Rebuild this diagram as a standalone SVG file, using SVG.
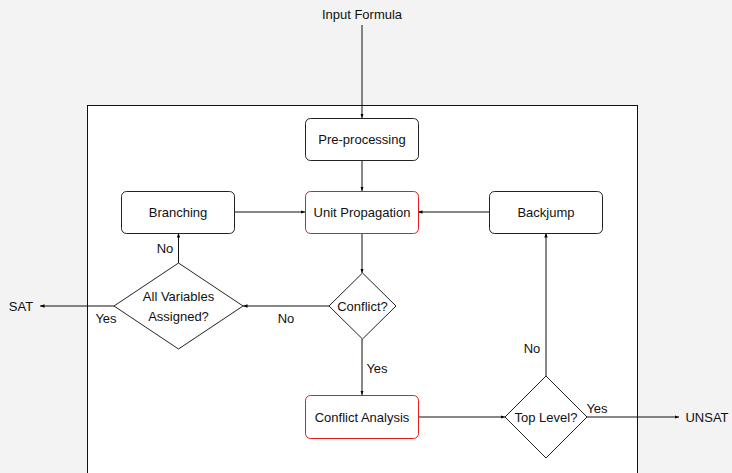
<svg xmlns="http://www.w3.org/2000/svg" width="732" height="473" viewBox="0 0 732 473">
<defs>
<marker id="ah" viewBox="0 0 6 6" refX="6" refY="3" markerWidth="4.5" markerHeight="4.5" markerUnits="userSpaceOnUse" orient="auto">
<path d="M0,0.8 L6,3 L0,5.2 z" fill="#000"/>
</marker>
</defs>
<style>
text{font-family:"Liberation Sans",Arial,sans-serif;font-size:13px;fill:#111;text-anchor:middle;dominant-baseline:central}
.box{fill:#fff;stroke:#222;stroke-width:1}
.red{fill:#fff;stroke:#e31d1d;stroke-width:1}
.edge{fill:none;stroke:#111;stroke-width:1;marker-end:url(#ah)}
</style>
<rect x="0" y="0" width="732" height="473" fill="#f3f3f3"/>
<rect id="frame" x="87.5" y="105.5" width="550" height="380" fill="#fff" stroke="#111" stroke-width="1"/>
<g id="connectors">
<path class="edge" d="M362,25 V118"/>
<path class="edge" d="M362,160 V191"/>
<path class="edge" d="M234,212 H305"/>
<path class="edge" d="M489,212 H418"/>
<path class="edge" d="M362,233 V273"/>
<path class="edge" d="M329,306 H243"/>
<path class="edge" d="M178.5,263 V233"/>
<path class="edge" d="M114,306 H40"/>
<path class="edge" d="M362,339 V395"/>
<path class="edge" d="M418,417 H505"/>
<path class="edge" d="M546,376 V233"/>
<path class="edge" d="M587,417 H679"/>
<text x="286" y="318">No</text>
<text x="165" y="248">No</text>
<text x="106" y="318">Yes</text>
<text x="377" y="368">Yes</text>
<text x="532" y="348">No</text>
<text x="597" y="408">Yes</text>
</g>
<g id="input"><text x="362" y="14">Input Formula</text></g>
<g id="preprocessing"><rect class="box" x="305.5" y="118.5" width="113" height="42" rx="5"/><text x="362" y="139.5">Pre-processing</text></g>
<g id="unitprop"><rect class="red" x="305.5" y="191.5" width="113" height="42" rx="5"/><text x="362" y="212.5">Unit Propagation</text></g>
<g id="branching"><rect class="box" x="121.5" y="191.5" width="113" height="42" rx="5"/><text x="178" y="212.5">Branching</text></g>
<g id="backjump"><rect class="box" x="489.5" y="191.5" width="113" height="42" rx="5"/><text x="546" y="212.5">Backjump</text></g>
<g id="conflict"><path class="box" d="M362.5,273 L396,306 L362.5,339 L329,306 z"/><text x="362.5" y="306">Conflict?</text></g>
<g id="allassigned"><path class="box" d="M178.5,263 L243,306 L178.5,349 L114,306 z"/><text x="178.5" y="296">All Variables</text><text x="178.5" y="316">Assigned?</text></g>
<g id="analysis"><rect class="red" x="305.5" y="395.5" width="113" height="43" rx="5"/><text x="362" y="417">Conflict Analysis</text></g>
<g id="toplevel"><path class="box" d="M546,376 L587,417 L546,458 L505,417 z"/><text x="546" y="417">Top Level?</text></g>
<g id="sat"><text x="21" y="306">SAT</text></g>
<g id="unsat"><text x="707" y="417">UNSAT</text></g>
</svg>
